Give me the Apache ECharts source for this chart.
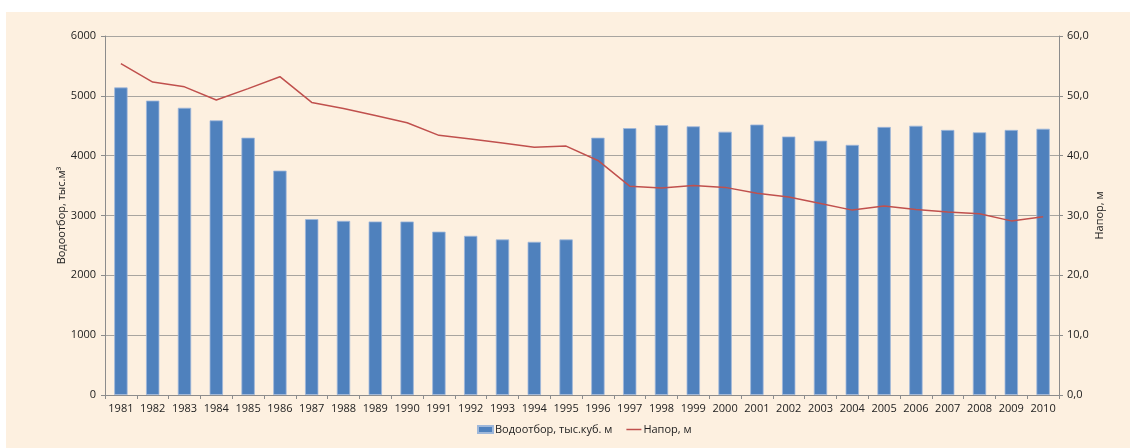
<!DOCTYPE html>
<html>
<head>
<meta charset="utf-8">
<script src="https://cdn.jsdelivr.net/npm/echarts@6/dist/echarts.min.js"></script>
<style>
  html, body { margin: 0; padding: 0; background: #ffffff; }
  #panel { position: absolute; left: 6px; top: 12px; width: 1124px; height: 436px; background: #fdf0e0; }
  #main { position: absolute; left: 0; top: 0; width: 1133px; height: 448px; }
</style>
</head>
<body>
<div id="panel"></div>
<div id="main"></div>
<script>
// years on the x axis
var years = ['1981', '1982', '1983', '1984', '1985', '1986', '1987', '1988', '1989', '1990',
  '1991', '1992', '1993', '1994', '1995', '1996', '1997', '1998', '1999', '2000',
  '2001', '2002', '2003', '2004', '2005', '2006', '2007', '2008', '2009', '2010'];

// water withdrawal, thousand m3 (left axis)
var withdrawal = [5140, 4920, 4800, 4590, 4300, 3750, 2940, 2910, 2900, 2900,
  2730, 2660, 2600, 2560, 2600, 4300, 4460, 4510, 4490, 4400,
  4520, 4320, 4250, 4180, 4480, 4500, 4430, 4390, 4430, 4450];

// head, m (right axis)
var head = [55.4, 52.3, 51.5, 49.3, 51.2, 53.2, 48.9, 47.9, 46.7, 45.5,
  43.4, 42.8, 42.1, 41.4, 41.6, 39.2, 34.9, 34.6, 35.0, 34.7,
  33.7, 33.1, 32.0, 30.9, 31.6, 31.0, 30.6, 30.3, 29.1, 29.8];

var fontFamily = 'Open Sans';
var textColor = '#222222';
var axisGray = '#8c8c8c';

var myChart = echarts.init(document.getElementById('main'));

var option = {
  backgroundColor: 'transparent',
  textStyle: { fontFamily: fontFamily, color: textColor },
  animation: false,
  grid: {
    left: 105,
    right: 74,
    top: 36,
    bottom: 53,
    containLabel: false
  },
  legend: {
    bottom: 8,
    left: 472,
    itemGap: 14,
    itemWidth: 15,
    itemHeight: 7,
    textStyle: { fontFamily: fontFamily, fontSize: 11, color: textColor, padding: [0, 0, 0, -3] },
    data: [
      { name: 'Водоотбор, тыс.куб. м', icon: 'rect' },
      { name: 'Напор, м', icon: 'path://M0,0h20v2h-20z' }
    ]
  },
  xAxis: {
    type: 'category',
    data: years,
    axisLine: { lineStyle: { color: axisGray, width: 1 } },
    axisTick: { show: true, length: 4, lineStyle: { color: axisGray } },
    axisLabel: { fontSize: 11, color: textColor, margin: 8, interval: 0 }
  },
  yAxis: [
    {
      type: 'value',
      min: 0,
      max: 6000,
      interval: 1000,
      name: 'Водоотбор, тыс.м³',
      nameLocation: 'middle',
      nameGap: 38,
      nameMoveOverlap: false,
      nameTextStyle: { fontSize: 11, color: textColor },
      axisLine: { show: true, lineStyle: { color: axisGray } },
      axisTick: { show: true, length: 4, lineStyle: { color: axisGray } },
      axisLabel: {
        fontSize: 11,
        color: textColor,
        margin: 9,
        formatter: function (v) { return String(v); }
      },
      splitLine: { lineStyle: { color: '#a8a5a0', width: 1 } }
    },
    {
      type: 'value',
      min: 0,
      max: 60,
      interval: 10,
      position: 'right',
      name: 'Напор, м',
      nameLocation: 'middle',
      nameGap: 35,
      nameMoveOverlap: false,
      nameRotate: 90,
      nameTextStyle: { fontSize: 11, color: textColor },
      axisLine: { show: true, lineStyle: { color: axisGray } },
      axisTick: { show: true, length: 4, lineStyle: { color: axisGray } },
      axisLabel: {
        fontSize: 11,
        color: textColor,
        margin: 8,
        formatter: function (v) { return v.toFixed(1).replace('.', ','); }
      },
      splitLine: { show: false }
    }
  ],
  series: [
    {
      name: 'Водоотбор, тыс.куб. м',
      type: 'bar',
      yAxisIndex: 0,
      barWidth: '42%',
      itemStyle: { color: '#4f81bd', borderColor: '#9fb8da', borderWidth: 0.8 },
      data: withdrawal
    },
    {
      name: 'Напор, м',
      type: 'line',
      yAxisIndex: 1,
      symbol: 'none',
      lineStyle: { color: '#c0504d', width: 1.5 },
      itemStyle: { color: '#c0504d' },
      data: head
    }
  ]
};

myChart.setOption(option);
</script>
</body>
</html>
